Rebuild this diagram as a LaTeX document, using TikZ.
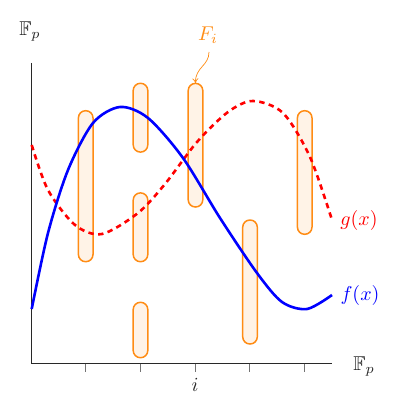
\documentclass[tikz,border=0pt]{standalone}
\usepackage{amssymb}
\usetikzlibrary{arrows.meta}
\definecolor{orng}{RGB}{255,140,20}
\definecolor{axisgray}{RGB}{40,40,40}
\tikzset{
  sbox/.style={draw=orng, fill=orng!10, line width=0.75pt, rounded corners=3.6pt,
    minimum width=7.3pt, inner sep=0pt, outer sep=0pt},
  axisline/.style={draw=axisgray, line width=0.5pt},
  tickline/.style={draw=black!55, line width=0.5pt},
  fcurve/.style={draw=blue, line width=1.3pt, line join=round},
  gcurve/.style={draw=red, line width=1.3pt, dash pattern=on 2.7pt off 2.2pt},
  lab/.style={inner sep=0pt, text=axisgray}
}
\begin{document}
\begin{tikzpicture}[x=0.5pt,y=-0.5pt]
\useasboundingbox (0,0) rectangle (410,400);
% boxes
\node[sbox, minimum height=75.5pt] (b1) at (85.7,186.2) {};
\node[sbox, minimum height=34.4pt] (b2) at (140.5,117.7) {};
\node[sbox, minimum height=34.4pt] (b3) at (140.5,227.3) {};
\node[sbox, minimum height=27.7pt] (b4) at (140.5,330) {};
\node[sbox, minimum height=61.8pt] (b5) at (195.5,145.2) {};
\node[sbox, minimum height=62pt] (b6) at (250,282) {};
\node[sbox, minimum height=61.8pt] (b7) at (304.7,172.5) {};
% axes
\coordinate (o) at (31.7,363.7);
\coordinate (ytop) at (31.7,63);
\coordinate (xend) at (332,363.7);
\draw[axisline] (ytop) -- (o) -- (xend);
\foreach \t [count=\k] in {85.7,140.3,195,249.7,304.3} {
  \coordinate (t\k) at (\t,363.7);
  \coordinate (tb\k) at (\t,371.5);
  \draw[tickline] (t\k) -- (tb\k);
}
% curves
\draw[gcurve] plot[smooth, tension=0.5] coordinates {
 (31.7,145) (48,190) (75,225) (102,234) (138,213) (165,184) (197,142)
 (228,112) (253,101) (283,113) (310,157) (332,220)};
\draw[fcurve] plot[smooth, tension=0.5] coordinates {
 (31.7,309) (48,233) (68,170) (93,123) (120,107) (148,118) (183,158)
 (220,218) (257,273) (282,302) (307,309) (332,295)};
% labels
\node[lab] (fpy) at (30,31) {$\mathbb{F}_p$};
\node[lab] (fpx) at (364,366) {$\mathbb{F}_p$};
\node[lab] (il) at (195,385) {$i$};
\node[inner sep=0pt, text=blue] (fl) at (360,295) {$f(x)$};
\node[inner sep=0pt, text=red] (gl) at (359,220) {$g(x)$};
\node[inner sep=0pt, text=orng] (Fi) at (208,35) {$F_i$};
\draw[orng, line width=0.35pt, -{To[length=2.5pt,width=3pt]}]
  (209,52) .. controls (209,66) and (195,67) .. (b5.north);
\end{tikzpicture}
\end{document}
